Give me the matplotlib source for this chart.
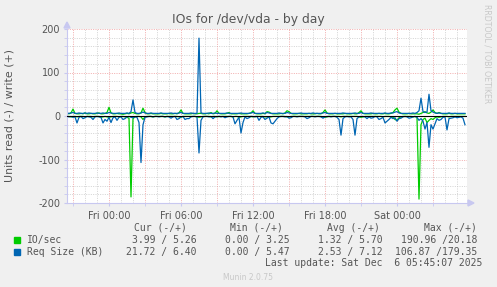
import matplotlib
matplotlib.use("Agg")
import matplotlib.pyplot as plt
import numpy as np

W, H = 497, 287

# ---- data (10-minute samples, hours relative to Fri 00:00) ----
start_hour = -3.5
step_hour = 1.0 / 6.0

io_write = [6,5,7,16,6,5,5,6,5,7,5,5,6,5,5,6,7,5,5,6,
            8,20,7,5,5,6,5,5,4,5,6,5,7,8,6,5,5,7,18,8,
            5,5,6,5,5,5,5,6,5,5,5,6,5,5,6,5,7,14,6,5,
            5,5,5,6,5,5,6,6,5,5,6,5,8,5,6,12,6,5,5,5,
            6,8,5,5,5,5,6,5,5,5,5,6,7,12,6,5,5,5,6,5,
            10,9,6,5,5,5,5,6,5,7,12,10,6,5,5,5,6,5,5,5,
            5,6,5,5,5,6,5,5,8,14,7,5,5,5,6,5,5,5,5,6,
            5,5,5,6,5,5,8,12,6,5,5,5,5,6,5,5,6,5,5,6,
            5,5,6,8,14,18,9,6,5,5,5,6,5,5,5,5,4,6,8,10,
            7,6,9,14,8,6,8,6,5,5,5,6,5,5,6,5,5,5,5,5]

io_read = [-1,-1,-2,-1,-1,-2,-1,-1,-1,-2,-1,-1,-1,-2,-1,-1,-1,-3,-2,-1,
           -2,-3,-2,-1,-1,-1,-2,-1,-1,-2,-3,-5,-186,-6,-2,-1,-1,-2,-8,-2,
           -1,-1,-1,-2,-1,-1,-1,-1,-1,-2,-1,-1,-1,-1,-1,-1,-2,-3,-1,-1,
           -1,-1,-1,-1,-1,-2,-3,-2,-1,-1,-1,-1,-2,-1,-1,-2,-1,-1,-1,-1,
           -1,-1,-1,-2,-1,-1,-3,-2,-1,-1,-1,-1,-1,-2,-1,-1,-1,-1,-1,-2,
           -2,-3,-2,-1,-1,-1,-1,-1,-1,-1,-2,-2,-1,-1,-1,-1,-1,-1,-1,-1,
           -1,-1,-1,-1,-1,-1,-1,-1,-2,-3,-2,-1,-1,-1,-1,-1,-1,-2,-1,-1,
           -1,-1,-1,-1,-1,-1,-2,-3,-2,-1,-1,-1,-1,-1,-1,-1,-1,-1,-2,-1,
           -1,-1,-2,-3,-8,-10,-4,-2,-1,-1,-1,-1,-1,-2,-1,-3,-191,-20,-8,-5,
           -15,-10,-6,-8,-4,-2,-3,-2,-1,-1,-1,-2,-1,-1,-1,-1,-1,-1,-1,-1]

req_write = [7,6,7,8,6,6,7,6,6,7,6,7,6,6,6,7,6,6,7,6,
             6,8,7,6,6,6,7,6,6,6,7,6,10,37,8,6,6,7,9,7,
             6,6,7,6,6,6,6,7,6,6,6,6,7,6,6,6,7,8,6,6,
             6,6,7,6,6,6,179,7,6,6,6,7,6,6,7,6,6,6,6,6,
             7,6,6,6,6,6,6,7,6,6,6,6,7,8,6,6,6,6,7,6,
             8,7,6,6,6,6,7,6,6,6,8,7,6,6,6,6,6,7,6,6,
             6,6,6,7,6,6,6,6,7,8,6,6,6,6,6,6,6,6,7,6,
             6,6,6,6,7,6,6,8,6,6,6,6,7,6,6,6,6,6,6,7,
             6,6,7,7,9,10,7,6,6,6,6,6,6,7,6,8,12,41,10,8,
             9,50,12,9,7,6,7,6,6,6,6,7,6,6,6,6,6,6,6,6]

req_read = [-1,-2,-1,-3,-2,-16,-3,-1,-6,-4,-1,-2,-3,-8,-2,-1,-2,-3,-16,-8,
            -12,-3,-15,-4,-2,-10,-3,-2,-8,-6,-2,-1,-3,-4,-2,-3,-15,-107,-20,-3,
            -2,-1,-1,-2,-1,-1,-2,-1,-1,-2,-1,-2,-5,-2,-1,-8,-6,-2,-1,-8,
            -6,-6,-2,-1,-1,-2,-85,-10,-2,-1,-1,-2,-1,-6,-2,-1,-1,-2,-1,-4,
            -2,-1,-1,-2,-18,-10,-3,-39,-15,-2,-6,-4,-1,-1,-2,-1,-10,-3,-2,-8,
            -5,-2,-16,-18,-12,-6,-2,-1,-1,-2,-1,-5,-4,-1,-1,-2,-1,-1,-1,-2,
            -6,-4,-1,-1,-2,-1,-1,-2,-5,-2,-1,-1,-2,-1,-1,-3,-8,-44,-6,-2,
            -1,-2,-2,-8,-44,-6,-2,-1,-1,-2,-6,-2,-5,-4,-1,-2,-8,-6,-3,-16,
            -12,-8,-3,-6,-4,-12,-6,-5,-2,-1,-2,-5,-4,-2,-1,-3,-10,-6,-12,-30,
            -15,-72,-20,-30,-18,-6,-10,-8,-3,-2,-32,-6,-5,-4,-2,-4,-3,-2,-5,-20]

tick_hours = [0, 6, 12, 18, 24]
tick_labels = ["Fri 00:00", "Fri 06:00", "Fri 12:00", "Fri 18:00", "Sat 00:00"]
y_ticks = [-200, -100, 0, 100, 200]

series_names = ["IO/sec", "Req Size (KB)"]
cur_vals = ["3.99 / 5.26", "21.72 / 6.40"]
min_vals = ["0.00 / 3.25", "0.00 / 5.47"]
avg_vals = ["1.32 / 5.70", "2.53 / 7.12"]
max_vals = ["190.96 /20.18", "106.87 /179.35"]

GREEN = "#00CC00"
BLUE = "#0066B3"
TXT = "#555555"
AXC = "#C8C8F0"

x = start_hour + step_hour * np.arange(len(io_write))

fig = plt.figure(figsize=(W / 100, H / 100), dpi=100, facecolor="#F0F0F0")

def fx(px):
    return px / W

def fy(py):
    return 1 - py / H

L, R, T, B = 67, 467, 29, 203
ax = fig.add_axes([fx(L), fy(B), fx(R) - fx(L), fy(T) - fy(B)])
ax.set_facecolor("white")
ax.set_xlim(-3.5, 29.8333)
ax.set_ylim(-200, 200)

# grid
dots = (0, (1.2, 1.6))
for h in np.arange(-3, 30, 1):
    if h % 3 == 0:
        continue
    ax.axvline(h, color="#CDCDCD", lw=0.6, ls=dots, zorder=0)
for v in np.arange(-180, 200, 20):
    if v % 100 == 0:
        continue
    ax.axhline(v, color="#CDCDCD", lw=0.6, ls=dots, zorder=0)
for h in np.arange(-3, 30, 3):
    ax.axvline(h, color="#F0A0A0", lw=0.6, ls=dots, zorder=0.5)
for v in [-200, -100, 0, 100, 200]:
    ax.axhline(v, color="#F0A0A0", lw=0.6, ls=dots, zorder=0.5)

ax.plot(x, io_read, color=GREEN, lw=0.9, zorder=2)
ax.plot(x, io_write, color=GREEN, lw=0.9, zorder=2)
ax.plot(x, req_read, color=BLUE, lw=0.9, zorder=2.2)
ax.plot(x, req_write, color=BLUE, lw=0.9, zorder=2.2)
ax.axhline(0, color="black", lw=0.8, zorder=3)

for s in ["top", "right"]:
    ax.spines[s].set_visible(False)
for s in ["left", "bottom"]:
    ax.spines[s].set_color(AXC)
    ax.spines[s].set_linewidth(0.8)

ax.set_xticks(tick_hours)
ax.set_xticklabels(tick_labels)
ax.set_yticks(y_ticks)
ax.set_yticklabels([str(v) for v in y_ticks])
ax.set_yticks(np.arange(-200, 201, 20), minor=True)
ax.set_xticks(np.arange(-3, 30, 3), minor=True)
ax.tick_params(axis="both", which="major", length=2, color=AXC, labelsize=7, labelcolor=TXT, pad=3)
ax.tick_params(axis="both", which="minor", length=2, color=AXC)
ax.tick_params(axis="x", which="major", pad=4)

# axis arrows
fig.patches.append(plt.Polygon([[fx(L - 3), fy(T - 1)], [fx(L + 3), fy(T - 1)], [fx(L), fy(T - 7)]],
                               closed=True, color=AXC, transform=fig.transFigure))
fig.patches.append(plt.Polygon([[fx(R + 1), fy(B - 3)], [fx(R + 1), fy(B + 3)], [fx(R + 7), fy(B)]],
                               closed=True, color=AXC, transform=fig.transFigure))

fig.text(fx(248), fy(19), "IOs for /dev/vda - by day", ha="center", va="center",
         fontsize=8.9, color=TXT)
fig.text(fx(10), fy(115), "Units read (-) / write (+)", rotation=90, ha="center",
         va="center", fontsize=7.9, color=TXT)
fig.text(fx(487), fy(54), "RRDTOOL / TOBI OETIKER", rotation=270, ha="center",
         va="center", fontsize=5.6, color="#C8C8C8")

mono = "DejaVu Sans Mono"
fs = 7
fig.text(fx(187), fy(228), "Cur (-/+)", ha="right", va="center", family=mono, fontsize=fs, color=TXT)
fig.text(fx(283), fy(228), "Min (-/+)", ha="right", va="center", family=mono, fontsize=fs, color=TXT)
fig.text(fx(380), fy(228), "Avg (-/+)", ha="right", va="center", family=mono, fontsize=fs, color=TXT)
fig.text(fx(477), fy(228), "Max (-/+)", ha="right", va="center", family=mono, fontsize=fs, color=TXT)

rows_y = [240, 252]
colors = [GREEN, BLUE]
for k in range(2):
    yy = rows_y[k]
    fig.patches.append(plt.Rectangle((fx(14), fy(yy + 3)), fx(6), 6 / H, color=colors[k],
                                     transform=fig.transFigure))
    fig.text(fx(27), fy(yy), series_names[k], ha="left", va="center", family=mono, fontsize=fs, color=TXT)
    fig.text(fx(197), fy(yy), cur_vals[k], ha="right", va="center", family=mono, fontsize=fs, color=TXT)
    fig.text(fx(290), fy(yy), min_vals[k], ha="right", va="center", family=mono, fontsize=fs, color=TXT)
    fig.text(fx(383), fy(yy), avg_vals[k], ha="right", va="center", family=mono, fontsize=fs, color=TXT)
    fig.text(fx(477), fy(yy), max_vals[k], ha="right", va="center", family=mono, fontsize=fs, color=TXT)

fig.text(fx(482), fy(263), "Last update: Sat Dec  6 05:45:07 2025", ha="right", va="center",
         family=mono, fontsize=fs, color=TXT)
fig.text(fx(248), fy(277), "Munin 2.0.75", ha="center", va="center", fontsize=5.5, color="#C8C8C8")

fig.savefig("out.png", dpi=100, facecolor=fig.get_facecolor())
